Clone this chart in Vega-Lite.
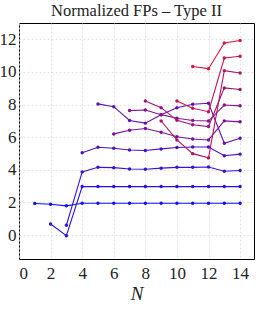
{
  "$schema": "https://vega.github.io/schema/vega-lite/v6.json",
  "autosize": {"type": "none"},
  "padding": {"left": 19, "top": 23, "right": 2, "bottom": 57},
  "width": 235,
  "height": 236,
  "title": {"text": "Normalized FPs – Type II", "font": "Liberation Serif", "fontSize": 16.5, "fontWeight": "normal", "color": "#222", "offset": 4, "anchor": "middle"},
  "config": {
    "view": {"stroke": "#000", "strokeWidth": 1},
    "axis": {"labelFont": "Liberation Serif", "titleFont": "Liberation Serif", "labelColor": "#222", "titleColor": "#222", "gridColor": "#dcdcdc", "gridDash": [2, 2], "gridWidth": 0.8, "domain": false, "ticks": false}
  },
  "data": {"values": [
    {"s":1,"N":1,"v":1.93},{"s":1,"N":2,"v":1.89},{"s":1,"N":3,"v":1.79},{"s":1,"N":4,"v":1.95},{"s":1,"N":5,"v":1.95},{"s":1,"N":6,"v":1.95},{"s":1,"N":7,"v":1.95},{"s":1,"N":8,"v":1.95},{"s":1,"N":9,"v":1.95},{"s":1,"N":10,"v":1.95},{"s":1,"N":11,"v":1.95},{"s":1,"N":12,"v":1.95},{"s":1,"N":13,"v":1.95},{"s":1,"N":14,"v":1.95},
    {"s":2,"N":2,"v":0.68},{"s":2,"N":3,"v":-0.04},{"s":2,"N":4,"v":2.97},{"s":2,"N":5,"v":2.97},{"s":2,"N":6,"v":2.97},{"s":2,"N":7,"v":2.97},{"s":2,"N":8,"v":2.97},{"s":2,"N":9,"v":2.97},{"s":2,"N":10,"v":2.97},{"s":2,"N":11,"v":2.97},{"s":2,"N":12,"v":2.97},{"s":2,"N":13,"v":2.97},{"s":2,"N":14,"v":2.97},
    {"s":3,"N":3,"v":0.6},{"s":3,"N":4,"v":3.87},{"s":3,"N":5,"v":4.15},{"s":3,"N":6,"v":4.13},{"s":3,"N":7,"v":4.05},{"s":3,"N":8,"v":4.03},{"s":3,"N":9,"v":4.1},{"s":3,"N":10,"v":4.15},{"s":3,"N":11,"v":4.15},{"s":3,"N":12,"v":4.17},{"s":3,"N":13,"v":3.91},{"s":3,"N":14,"v":3.96},
    {"s":4,"N":4,"v":5.05},{"s":4,"N":5,"v":5.38},{"s":4,"N":6,"v":5.32},{"s":4,"N":7,"v":5.21},{"s":4,"N":8,"v":5.18},{"s":4,"N":9,"v":5.28},{"s":4,"N":10,"v":5.37},{"s":4,"N":11,"v":5.4},{"s":4,"N":12,"v":5.4},{"s":4,"N":13,"v":4.86},{"s":4,"N":14,"v":4.96},
    {"s":5,"N":5,"v":8.04},{"s":5,"N":6,"v":7.87},{"s":5,"N":7,"v":7.02},{"s":5,"N":8,"v":6.86},{"s":5,"N":9,"v":7.37},{"s":5,"N":10,"v":7.8},{"s":5,"N":11,"v":8.02},{"s":5,"N":12,"v":8.08},{"s":5,"N":13,"v":5.63},{"s":5,"N":14,"v":5.93},
    {"s":6,"N":6,"v":6.2},{"s":6,"N":7,"v":6.42},{"s":6,"N":8,"v":6.53},{"s":6,"N":9,"v":6.3},{"s":6,"N":10,"v":6.03},{"s":6,"N":11,"v":5.89},{"s":6,"N":12,"v":5.83},{"s":6,"N":13,"v":7.0},{"s":6,"N":14,"v":6.94},
    {"s":7,"N":7,"v":7.63},{"s":7,"N":8,"v":7.67},{"s":7,"N":9,"v":7.38},{"s":7,"N":10,"v":7.16},{"s":7,"N":11,"v":7.02},{"s":7,"N":12,"v":6.99},{"s":7,"N":13,"v":7.97},{"s":7,"N":14,"v":7.92},
    {"s":8,"N":8,"v":8.22},{"s":8,"N":9,"v":7.81},{"s":8,"N":10,"v":7.03},{"s":8,"N":11,"v":6.76},{"s":8,"N":12,"v":6.65},{"s":8,"N":13,"v":9.02},{"s":8,"N":14,"v":8.92},
    {"s":9,"N":9,"v":6.99},{"s":9,"N":10,"v":5.83},{"s":9,"N":11,"v":4.99},{"s":9,"N":12,"v":4.73},{"s":9,"N":13,"v":10.08},{"s":9,"N":14,"v":9.93},
    {"s":10,"N":10,"v":8.22},{"s":10,"N":11,"v":7.77},{"s":10,"N":12,"v":7.56},{"s":10,"N":13,"v":10.85},{"s":10,"N":14,"v":10.96},
    {"s":11,"N":11,"v":10.33},{"s":11,"N":12,"v":10.2},{"s":11,"N":13,"v":11.77},{"s":11,"N":14,"v":11.93}
  ]},
  "encoding": {
    "x": {"field": "N", "type": "quantitative", "scale": {"domain": [0, 14.88], "nice": false, "zero": false},
          "axis": {"values": [0,2,4,6,8,10,12,14], "labelFontSize": 17, "labelPadding": 6, "title": "N", "titleFontSize": 19, "titleFontStyle": "italic", "titleFontWeight": "normal", "titlePadding": 3}},
    "y": {"field": "v", "type": "quantitative", "scale": {"domain": [-1.47, 13.0], "nice": false, "zero": false},
          "axis": {"values": [0,2,4,6,8,10,12], "labelFontSize": 17, "labelPadding": 3, "title": null}},
    "color": {"field": "s", "type": "quantitative", "scale": {"domain": [1, 11], "range": ["#1010ff", "#dc143c"], "interpolate": "rgb"}, "legend": null}
  },
  "layer": [
    {"mark": {"type": "line", "strokeWidth": 1.1, "clip": true}, "encoding": {"detail": {"field": "s"}, "order": {"field": "N"}}},
    {"mark": {"type": "circle", "size": 12, "opacity": 1}}
  ]
}
